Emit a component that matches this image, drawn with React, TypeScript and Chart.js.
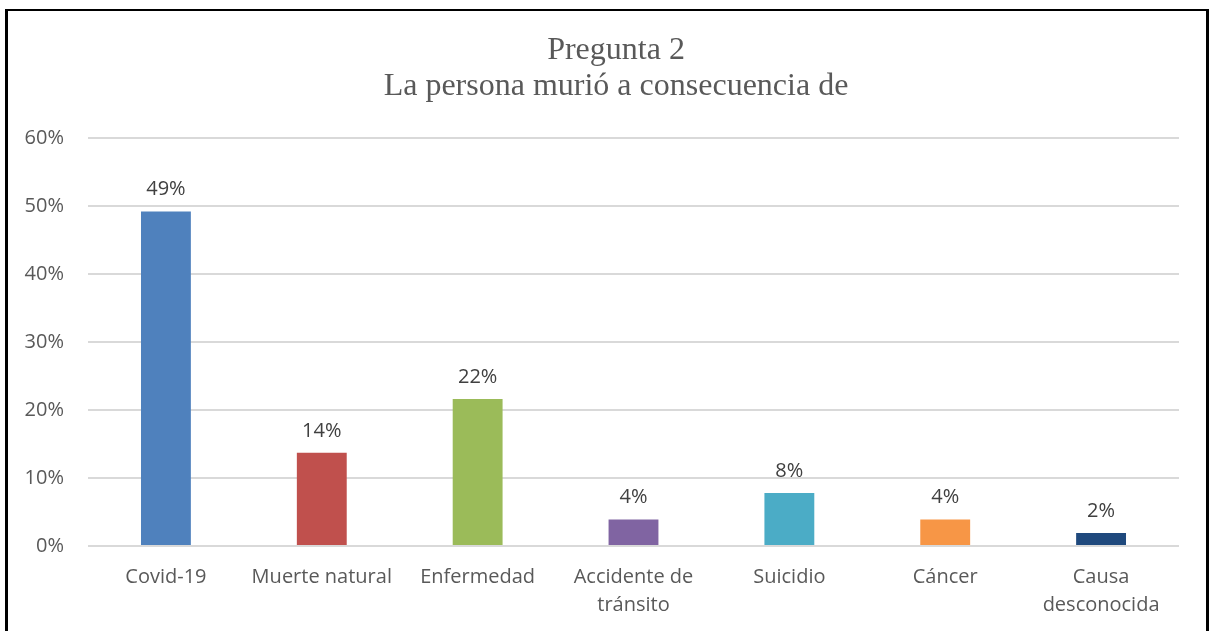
import React, { useEffect, useRef } from "react";
import { Chart, registerables } from "chart.js";

Chart.register(...registerables);

const categories: (string | string[])[] = [
  "Covid-19",
  "Muerte natural",
  "Enfermedad",
  ["Accidente de", "tránsito"],
  "Suicidio",
  "Cáncer",
  ["Causa", "desconocida"],
];
const values = [49.2, 13.7, 21.6, 3.9, 7.8, 3.9, 1.9];
const valueLabels = ["49%", "14%", "22%", "4%", "8%", "4%", "2%"];
const barColors = ["#4F81BD", "#C0504D", "#9BBB59", "#8064A2", "#4BACC6", "#F79646", "#1F497D"];
const titleLines = ["Pregunta 2", "La persona murió a consecuencia de"];

const SANS = "'Open Sans', 'Noto Sans', sans-serif";
const SERIF = "'Liberation Serif', 'Times New Roman', serif";

const dataLabelPlugin = {
  id: "dataLabels",
  afterDatasetsDraw(chart: any) {
    const ctx = chart.ctx;
    const meta = chart.getDatasetMeta(0);
    ctx.save();
    ctx.fillStyle = "#404040";
    ctx.font = `20px ${SANS}`;
    ctx.textAlign = "center";
    ctx.textBaseline = "alphabetic";
    meta.data.forEach((bar: any, i: number) => {
      ctx.fillText(valueLabels[i], bar.x, bar.y - 16);
    });
    ctx.restore();
  },
};

const titlePlugin = {
  id: "centeredTitle",
  afterDraw(chart: any) {
    const ctx = chart.ctx;
    ctx.save();
    ctx.fillStyle = "#595959";
    ctx.font = `32px ${SERIF}`;
    ctx.textAlign = "center";
    ctx.textBaseline = "alphabetic";
    titleLines.forEach((line, i) => {
      ctx.fillText(line, 616, 59 + i * 36);
    });
    ctx.restore();
  },
};

export default function App() {
  const ref = useRef<HTMLCanvasElement | null>(null);
  useEffect(() => {
    if (!ref.current) return;
    const chart = new Chart(ref.current, {
      type: "bar",
      data: {
        labels: categories,
        datasets: [
          {
            data: values,
            backgroundColor: barColors,
            barPercentage: 0.32,
            categoryPercentage: 1,
          },
        ],
      },
      plugins: [dataLabelPlugin, titlePlugin],
      options: {
        responsive: false,
        animation: false,
        layout: { padding: { left: 0, right: 31, top: 138, bottom: 0 } },
        plugins: {
          legend: { display: false },
          tooltip: { enabled: false },
          title: { display: false },
        },
        scales: {
          x: {
            grid: { display: false, drawTicks: false },
            border: { display: false },
            ticks: {
              color: "#595959",
              font: { family: SANS, size: 20, lineHeight: 1.4 },
              padding: 17,
              maxRotation: 0,
              autoSkip: false,
            },
            afterFit: (scale: any) => {
              scale.height = 85;
            },
          },
          y: {
            min: 0,
            max: 60,
            grid: { color: "#D9D9D9", lineWidth: 2, drawTicks: false },
            border: { display: false },
            ticks: {
              stepSize: 10,
              color: "#595959",
              font: { family: SANS, size: 20 },
              padding: 24,
              callback: (v: any) => `${v}%`,
            },
            afterFit: (scale: any) => {
              scale.width = 88;
            },
          },
        },
      },
    });
    return () => chart.destroy();
  }, []);

  return (
    <div style={{ position: "fixed", left: 0, top: 0, width: 1210, height: 631, background: "#fff", overflow: "hidden" }}>
      <canvas ref={ref} width={1210} height={631} style={{ position: "absolute", left: 0, top: 0 }} />
      <div
        style={{
          position: "absolute",
          left: 5,
          top: 9,
          width: 1198,
          height: 700,
          borderTop: "2px solid #000",
          borderLeft: "3px solid #000",
          borderRight: "3px solid #000",
          pointerEvents: "none",
        }}
      />
    </div>
  );
}
